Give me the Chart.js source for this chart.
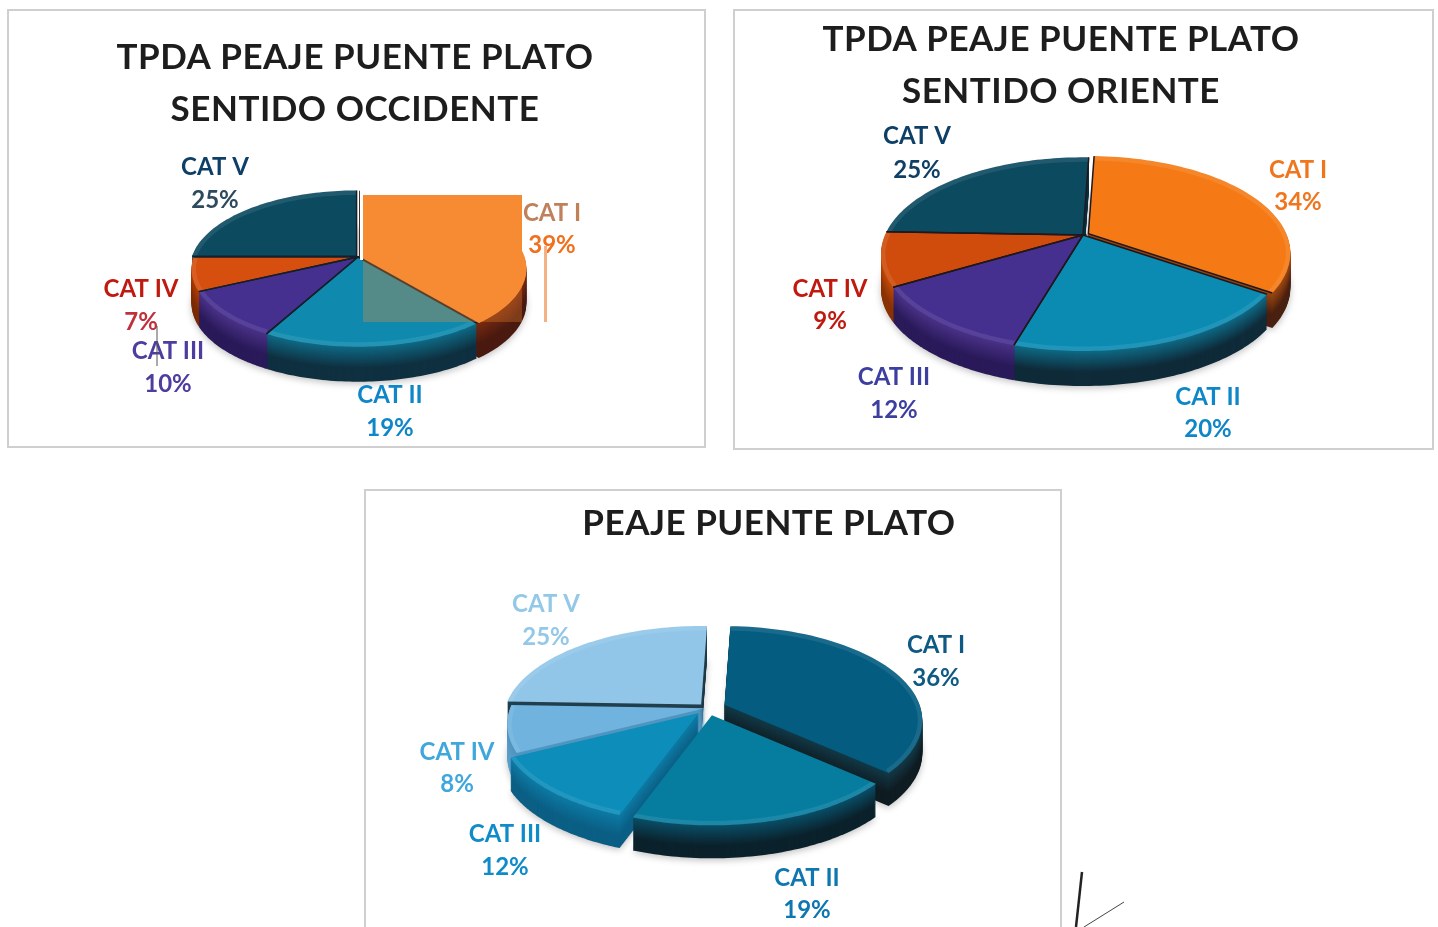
<!DOCTYPE html>
<html lang="es">
<head>
<meta charset="utf-8">
<title>TPDA Peaje Puente Plato</title>
<script src="https://cdn.jsdelivr.net/npm/chart.js@4"></script>
<style>
  html, body { margin:0; padding:0; background:#fff; width:1438px; height:927px; overflow:hidden; }
  .caja { position:absolute; box-sizing:border-box; border:2px solid #cfcfcf; background:#fff; }
  canvas { position:absolute; }
  svg { position:absolute; left:0; top:0; pointer-events:none; }
</style>
</head>
<body>
<div class="caja" style="left:7px;top:9px;width:699px;height:439px"></div>
<div class="caja" style="left:733px;top:9px;width:701px;height:441px"></div>
<div class="caja" style="left:364px;top:489px;width:698px;height:460px"></div>
<canvas id="chartOccidente"></canvas>
<canvas id="chartOriente"></canvas>
<canvas id="chartPeaje"></canvas>
<svg width="1438" height="927">
  <line x1="545.5" y1="246" x2="545.5" y2="322" stroke="#f3b184" stroke-width="3"/>
  <line x1="157" y1="326" x2="157" y2="366" stroke="#555" stroke-width="1"/>
  <line x1="1082" y1="872" x2="1076" y2="927" stroke="#222" stroke-width="2.5"/>
  <line x1="1124" y1="902" x2="1084" y2="927" stroke="#444" stroke-width="1"/>
</svg>
<script>
const CATEGORIAS = ["CAT I", "CAT II", "CAT III", "CAT IV", "CAT V"];
const OCCIDENTE  = [39, 19, 10, 7, 25];
const ORIENTE    = [34, 20, 12, 9, 25];
const PEAJE      = [36, 19, 12, 8, 25];

const COLOR_OCCIDENTE = ["#f68b33", "#0f8aae", "#46308f", "#d64f0e", "#0c4a60"];
const COLOR_ORIENTE   = ["#f57a15", "#0b8bb2", "#46308f", "#cf4c0c", "#0c4a60"];
const COLOR_PEAJE     = ["#045d80", "#067c9e", "#0c8dba", "#6fb3de", "#92c6e8"];

const PARED_OCCIDENTE = [["#7a2b10", "#4a1a10"], ["#0f6a86", "#0f3040"], ["#4a3288", "#2a1a5a"], ["#b03d05", "#7a2a05"], ["#0a3a4a", "#0a3040"]];
const PARED_ORIENTE   = [["#a04a10", "#4a2010"], ["#0f6a86", "#0f2a38"], ["#4a3288", "#2a1a5a"], ["#c04a08", "#8a3205"], ["#0a3a4a", "#0a3040"]];
const PARED_PEAJE     = [["#123a48", "#0f1c22"], ["#0a4f68", "#0b222c"], ["#0d7ba5", "#0b5f85"], ["#4f94c0", "#5b9fc9"], ["#22404e", "#1f3a48"]];

const TEXTO_OCCIDENTE = ["#c0805a", "#0e86c8", "#4b3e9e", "#c0190f", "#0e3f66"];
const PCT_OCCIDENTE   = ["#f0701e", "#0e86c8", "#4b3e9e", "#c0303a", "#2e4a5e"];
const TEXTO_ORIENTE   = ["#f0761e", "#0e86c8", "#3c3fa0", "#c0190f", "#0e3f66"];
const PCT_ORIENTE     = ["#f0761e", "#0e86c8", "#3c3fa0", "#c0190f", "#0e3f66"];
const TEXTO_PEAJE     = ["#0f5a85", "#0e76b0", "#0f8cc8", "#3fa7dc", "#93c8e8"];
const PCT_PEAJE       = TEXTO_PEAJE;

// posiciones de pagina: centro de cada etiqueta
const ETIQ_OCCIDENTE = [[552,213,245], [390,395,428], [168,351,384], [141,289,322], [215,167,200]];
const ETIQ_ORIENTE   = [[1298,170,202], [1208,397,429], [894,377,410], [830,289,321], [917,136,170]];
const ETIQ_PEAJE     = [[936,645,678], [807,878,910], [505,834,867], [457,752,784], [546,604,637]];

function mezcla(a, b, t) {
  const p = s => [1, 3, 5].map(i => parseInt(s.substr(i, 2), 16));
  const ca = p(a), cb = p(b);
  return "rgb(" + ca.map((v, i) => Math.round(v + (cb[i] - v) * t)).join(",") + ")";
}

// punto de la circunferencia con perspectiva (k) y aplastado (pie.aplaste)
function punto(e, pie, ang, dy) {
  const mid = (e.startAngle + e.endAngle) / 2;
  const off = e.options.offset || 0;
  const ox = Math.cos(mid) * off, oy = Math.sin(mid) * off * pie.aplaste;
  const w = 1 - pie.k * Math.sin(ang);
  return [
    pie.cx + ox + e.outerRadius * Math.cos(ang) / w,
    pie.cy + oy + dy + e.outerRadius * pie.aplaste * Math.sin(ang) / w
  ];
}

function vertice(e, pie, dy) {
  const mid = (e.startAngle + e.endAngle) / 2;
  const off = e.options.offset || 0;
  return [pie.cx + Math.cos(mid) * off, pie.cy + dy + Math.sin(mid) * off * pie.aplaste];
}

function caminoPorcion(ctx, e, pie, dy) {
  const [vx, vy] = vertice(e, pie, dy);
  ctx.beginPath();
  ctx.moveTo(vx, vy);
  const n = 60;
  for (let i = 0; i <= n; i++) {
    const [x, y] = punto(e, pie, e.startAngle + (e.endAngle - e.startAngle) * i / n, dy);
    ctx.lineTo(x, y);
  }
  ctx.closePath();
}

function parcheOccidente(ctx, e, pie) {
  // el recuadro naranja que tapa CAT I en el original
  ctx.fillStyle = "rgba(246,139,51,.3)";
  ctx.fillRect(363, 195, 159, 127);
  ctx.fillStyle = "#f68b33";
  caminoPorcion(ctx, e, pie, 0);
  ctx.fill();
  ctx.beginPath();
  ctx.moveTo(363, 195); ctx.lineTo(522, 195); ctx.lineTo(522, 262); ctx.lineTo(363, 257);
  ctx.closePath();
  ctx.fill();
  ctx.fillStyle = "#fff";
  ctx.fillRect(361, 180, 167, 15);
  ctx.fillRect(360, 180, 3, 80);
}

const pieTresD = {
  id: "pieTresD",
  beforeDraw(chart) {
    chart.ctx.letterSpacing = "0.5px";
  },
  beforeDatasetDraw(chart) {
    const cfg = chart.options.plugins.pieTresD;
    const pie = cfg.pie;
    const ctx = chart.ctx;
    const arcos = chart.getDatasetMeta(0).data;
    ctx.save();
    ctx.translate(-cfg.left, -cfg.top);
    for (let d = pie.fondo; d >= 1; d--) {
      const t = d / pie.fondo;
      if (d === pie.fondo) { ctx.shadowColor = "rgba(0,0,0,.25)"; ctx.shadowBlur = 7; ctx.shadowOffsetY = 2; }
      arcos.forEach((e, i) => {
        ctx.fillStyle = mezcla(cfg.pared[i][0], cfg.pared[i][1], Math.min(1, t * 1.6));
        caminoPorcion(ctx, e, pie, d);
        ctx.fill();
      });
      ctx.shadowColor = "transparent"; ctx.shadowBlur = 0; ctx.shadowOffsetY = 0;
    }
    arcos.forEach(e => {
      caminoPorcion(ctx, e, pie, 0);
      ctx.fillStyle = e.options.backgroundColor;
      ctx.fill();
    });
    // brillo suave del borde frontal
    arcos.forEach(e => {
      ctx.save();
      caminoPorcion(ctx, e, pie, 0);
      ctx.clip();
      ctx.beginPath();
      const n = 60;
      for (let i = 0; i <= n; i++) {
        const a = e.startAngle + (e.endAngle - e.startAngle) * i / n;
        const [x, y] = punto(e, pie, a, 0);
        if (i === 0) ctx.moveTo(x, y); else ctx.lineTo(x, y);
      }
      ctx.strokeStyle = "rgba(255,255,255,.09)";
      ctx.lineWidth = 9;
      ctx.stroke();
      ctx.restore();
    });
    // solo los bordes radiales llevan linea oscura
    arcos.forEach(e => {
      if (!e.options.borderWidth) return;
      const [vx, vy] = vertice(e, pie, 0);
      const a = punto(e, pie, e.startAngle, 0), b = punto(e, pie, e.endAngle, 0);
      ctx.beginPath();
      ctx.moveTo(a[0], a[1]); ctx.lineTo(vx, vy); ctx.lineTo(b[0], b[1]);
      ctx.strokeStyle = e.options.borderColor;
      ctx.lineWidth = e.options.borderWidth;
      ctx.stroke();
    });
    if (cfg.parche) parcheOccidente(ctx, arcos[0], pie);
    ctx.restore();
    return false;
  },
  afterDraw(chart) {
    const cfg = chart.options.plugins.pieTresD;
    const ctx = chart.ctx;
    const valores = chart.data.datasets[0].data;
    ctx.save();
    ctx.translate(-cfg.left, -cfg.top);
    ctx.letterSpacing = "0px";
    ctx.font = "bold 24px Lato";
    ctx.textAlign = "center";
    ctx.textBaseline = "middle";
    chart.data.labels.forEach((nombre, i) => {
      const [x, y1, y2] = cfg.etiquetas[i];
      ctx.fillStyle = cfg.texto[i];
      ctx.fillText(nombre, x, y1);
      ctx.fillStyle = cfg.pct[i];
      ctx.fillText(valores[i] + "%", x, y2);
    });
    ctx.restore();
  }
};

function crearPie(canvasId, caja, titulo, tituloTop, valores, colores, extra) {
  const cv = document.getElementById(canvasId);
  cv.style.left = caja.left + "px";
  cv.style.top = caja.top + "px";
  cv.width = caja.width;
  cv.height = caja.height;
  return new Chart(cv, {
    type: "pie",
    plugins: [pieTresD],
    data: {
      labels: CATEGORIAS,
      datasets: [{
        data: valores,
        backgroundColor: colores,
        borderColor: extra.borde,
        borderWidth: extra.anchoBorde,
        offset: extra.offset,
        radius: extra.radio
      }]
    },
    options: {
      responsive: false, animation: false,
      rotation: extra.rotacion,
      plugins: {
        legend: { display: false },
        tooltip: { enabled: false },
        title: {
          display: true, text: titulo, color: "#1d1d1d",
          font: { family: "Lato", weight: "bold", size: 35, lineHeight: 52 / 35 },
          padding: { top: tituloTop, bottom: 0 }
        },
        pieTresD: {
          left: caja.left, top: caja.top, pie: extra.pie, pared: extra.pared,
          etiquetas: extra.etiquetas, texto: extra.texto, pct: extra.pct, parche: extra.parche
        }
      }
    }
  });
}

crearPie("chartOccidente", { left: 8, top: 10, width: 694, height: 438 },
  ["TPDA PEAJE PUENTE PLATO", "SENTIDO OCCIDENTE"], 22, OCCIDENTE, COLOR_OCCIDENTE, {
    borde: "#15202a", anchoBorde: 1.5, offset: [2, 0, 0, 0, 2], radio: 164.5, rotacion: 0,
    pie: { cx: 358, cy: 257, k: 0.153, aplaste: 0.462, fondo: 35 },
    pared: PARED_OCCIDENTE, etiquetas: ETIQ_OCCIDENTE, texto: TEXTO_OCCIDENTE, pct: PCT_OCCIDENTE, parche: true
  });

crearPie("chartOriente", { left: 734, top: 0, width: 654, height: 450 },
  ["TPDA PEAJE PUENTE PLATO", "SENTIDO ORIENTE"], 14, ORIENTE, COLOR_ORIENTE, {
    borde: "#20181c", anchoBorde: 1.5, offset: [6, 0, 0, 0, 0], radio: 198, rotacion: 2,
    pie: { cx: 1083, cy: 235, k: 0.198, aplaste: 0.47, fondo: 35 },
    pared: PARED_ORIENTE, etiquetas: ETIQ_ORIENTE, texto: TEXTO_ORIENTE, pct: PCT_ORIENTE, parche: false
  });

crearPie("chartPeaje", { left: 364, top: 483, width: 810, height: 444 },
  ["PEAJE PUENTE PLATO"], 15, PEAJE, COLOR_PEAJE, {
    borde: "#000", anchoBorde: 0, offset: [18, 16, 14, 3, 10], radio: 195, rotacion: 2,
    pie: { cx: 708, cy: 708, k: 0.167, aplaste: 0.47, fondo: 33 },
    pared: PARED_PEAJE, etiquetas: ETIQ_PEAJE, texto: TEXTO_PEAJE, pct: PCT_PEAJE, parche: false
  });
</script>
</body>
</html>
